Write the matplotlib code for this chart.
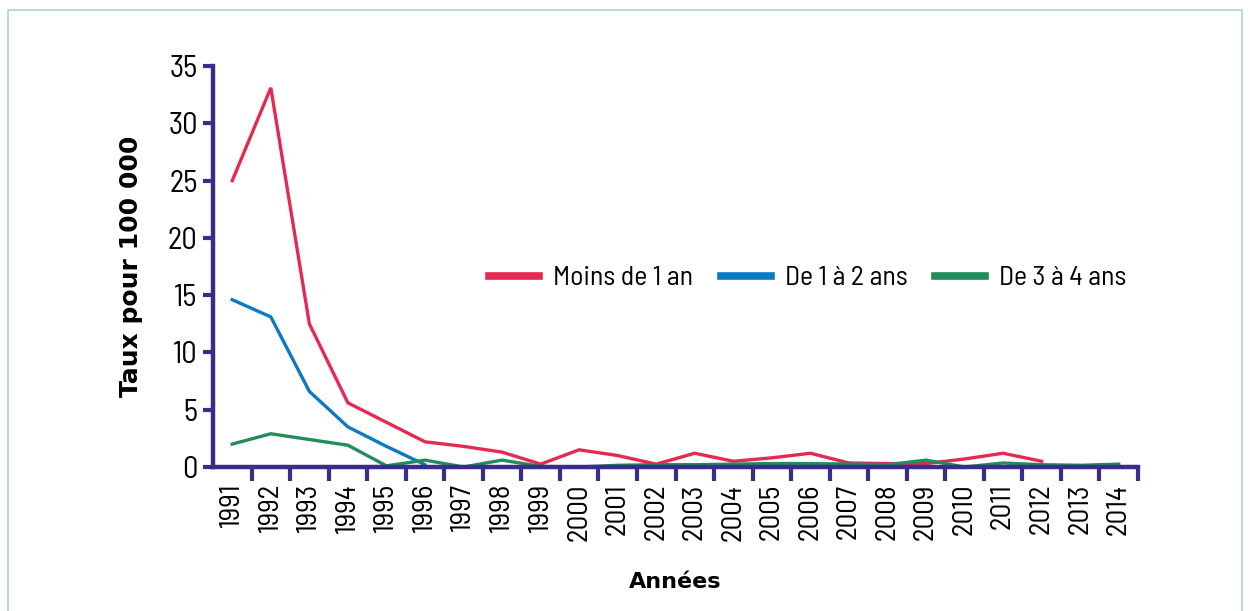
import numpy as np
import matplotlib.pyplot as plt
from matplotlib import font_manager
from matplotlib.patches import Rectangle

years = [str(y) for y in range(1991, 2015)]

moins_1_an = [25.0, 33.1, 12.5, 5.6, 3.9, 2.2, 1.8, 1.3, 0.25, 1.5, 1.0, 0.25,
              1.2, 0.5, 0.8, 1.2, 0.35, 0.3, 0.3, 0.7, 1.2, 0.5, np.nan, np.nan]
de_1_a_2 = [14.6, 13.1, 6.6, 3.5, 1.8, 0.2] + [np.nan] * 18
de_3_a_4 = [2.0, 2.9, 2.4, 1.9, 0.1, 0.6, 0.0, 0.6, 0.05, 0.0, 0.15, 0.2,
            0.2, 0.25, 0.3, 0.3, 0.25, 0.2, 0.6, 0.0, 0.35, 0.2, 0.15, 0.25]

series = [
    ("Moins de 1 an", moins_1_an, "#e42a52"),
    ("De 1 à 2 ans", de_1_a_2, "#0a7ac4"),
    ("De 3 à 4 ans", de_3_a_4, "#218c5c"),
]

axis_color = "#3b2c8c"

# a semi condensed face is closest to the original lettering
names = {f.name for f in font_manager.fontManager.ttflist}
wanted = ['Barlow Semi Condensed', 'Encode Sans Semi Condensed',
          'Archivo Narrow', 'Liberation Sans Narrow']
plt.rcParams['font.family'] = [n for n in wanted if n in names][:1] + ['DejaVu Sans']

fig = plt.figure(figsize=(12.5, 6.11), dpi=100)
fig.patches.append(Rectangle((8 / 1250, -0.05), 1234 / 1250, 1.05 - 10 / 611,
                             transform=fig.transFigure, fill=False,
                             edgecolor="#a9d6cf", linewidth=1.2))

ax = fig.add_axes([213 / 1250, 1 - 467 / 611, 925 / 1250, 401 / 611])
x = np.arange(len(years))
for name, vals, col in series:
    ax.plot(x, vals, color=col, linewidth=2.4, label=name,
            solid_joinstyle='miter', zorder=2)

ax.set_xlim(-0.5, len(years) - 0.5)
ax.set_ylim(0, 35)

for side in ['top', 'right']:
    ax.spines[side].set_visible(False)
for side in ['left', 'bottom']:
    ax.spines[side].set_color(axis_color)
    ax.spines[side].set_linewidth(3.2)
    ax.spines[side].set_zorder(3)

ax.set_yticks(np.arange(0, 36, 5))
ax.tick_params(axis='y', direction='out', length=7, width=3, color=axis_color,
               labelsize=22, pad=4)

ax.set_xticks(x + 0.5)
ax.set_xticklabels([])
ax.set_xticks(x, minor=True)
ax.set_xticklabels(years, minor=True, rotation=90, fontsize=21)
ax.tick_params(axis='x', which='major', direction='out', length=10, width=3,
               color=axis_color)
ax.tick_params(axis='x', which='minor', length=0, pad=12)

ax.set_ylabel("Taux pour 100 000", fontsize=18, fontweight='bold',
              family='DejaVu Sans', labelpad=18)
ax.set_xlabel("Années", fontsize=16, fontweight='bold', family='DejaVu Sans',
              labelpad=22)

fig.legend(loc='center', bbox_to_anchor=(808 / 1250, 1 - 278 / 611), ncol=3,
           frameon=False, fontsize=20, handlelength=1.8, handletextpad=0.5,
           columnspacing=1.0, handleheight=0.5)
for line in fig.legends[0].get_lines():
    line.set_linewidth(5.5)

fig.savefig("out.png", dpi=100, facecolor='white')
